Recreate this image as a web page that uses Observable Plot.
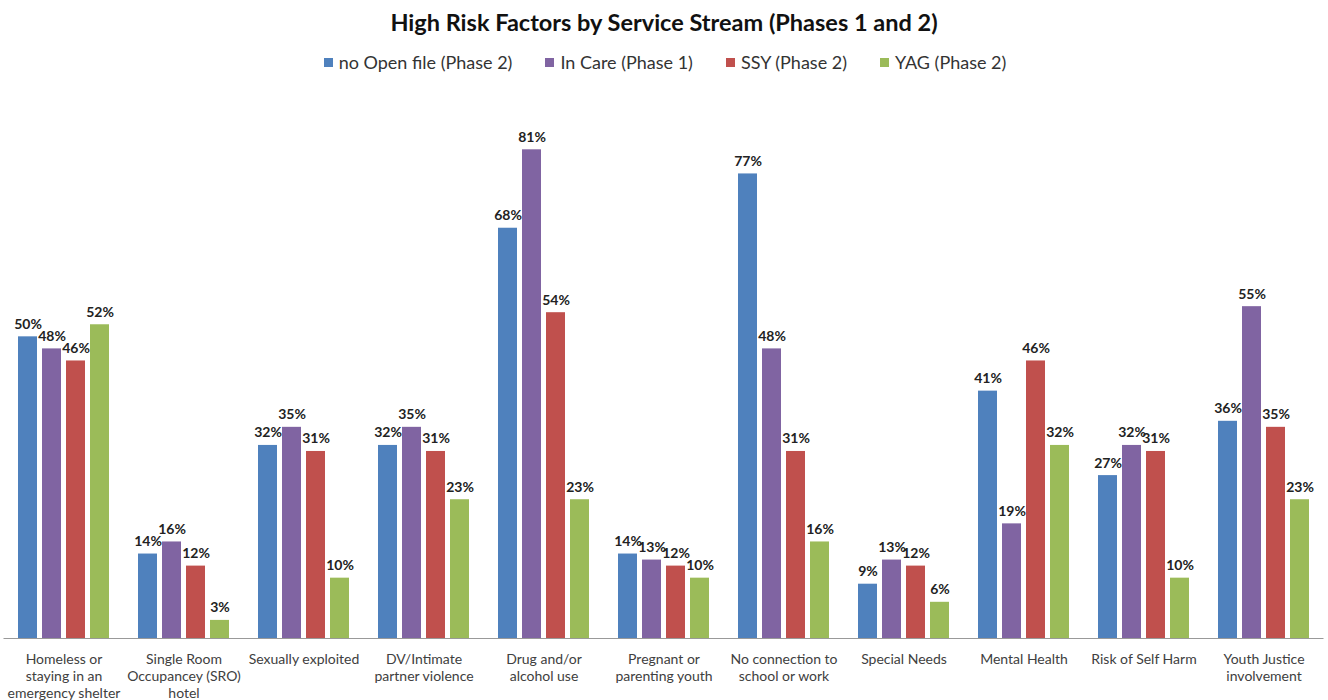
<!DOCTYPE html>
<html>
<head>
<meta charset="utf-8">
<script src="https://cdn.jsdelivr.net/npm/d3@7"></script>
<script src="https://cdn.jsdelivr.net/npm/@observablehq/plot@0.6"></script>
<style>
  html, body { margin: 0; padding: 0; background: #fff; }
  body { width: 1328px; height: 700px; overflow: hidden; font-family: Lato, "Open Sans", sans-serif; color: #000; }
  #title { height: 44px; line-height: 44px; text-align: center; font-weight: bold; font-size: 23.5px; color: #111; }
  #legend { height: 40px; display: flex; justify-content: center; align-items: center; gap: 33px; font-size: 18px; color: #333; padding-left: 2px; box-sizing: border-box; padding-bottom: 4px; }
  .item { display: flex; align-items: center; }
  .sw { width: 9px; height: 9px; margin-right: 6px; display: inline-block; }
  #chart svg { display: block; }
</style>
</head>
<body>
<div id="title">High Risk Factors by Service Stream (Phases 1 and 2)</div>
<div id="legend"></div>
<div id="chart"></div>
<script>
const categories = [
  "Homeless or\nstaying in an\nemergency shelter",
  "Single Room\nOccupancey (SRO)\nhotel",
  "Sexually exploited",
  "DV/Intimate\npartner violence",
  "Drug and/or\nalcohol use",
  "Pregnant or\nparenting youth",
  "No connection to\nschool or work",
  "Special Needs",
  "Mental Health",
  "Risk of Self Harm",
  "Youth Justice\ninvolvement"
];
const seriesNames = ["no Open file (Phase 2)", "In Care (Phase 1)", "SSY (Phase 2)", "YAG (Phase 2)"];
const seriesColors = ["#4F81BD", "#8064A2", "#C0504D", "#9BBB59"];
const noOpenFile = [50, 14, 32, 32, 68, 14, 77, 9, 41, 27, 36];
const inCare     = [48, 16, 35, 35, 81, 13, 48, 13, 19, 32, 55];
const ssy        = [46, 12, 31, 31, 54, 12, 31, 12, 46, 31, 35];
const yag        = [52,  3, 10, 23, 23, 10, 16,  6, 32, 10, 23];
const seriesValues = [noOpenFile, inCare, ssy, yag];

// legend
const legend = document.getElementById("legend");
seriesNames.forEach((n, i) => {
  const it = document.createElement("div");
  it.className = "item";
  it.innerHTML = `<span class="sw" style="background:${seriesColors[i]}"></span><span>${n}</span>`;
  legend.appendChild(it);
});

const data = [];
seriesNames.forEach((s, si) => {
  categories.forEach((c, ci) => data.push({category: c, series: s, si, value: seriesValues[si][ci]}));
});

const barStep = 24;
const barW = 19.2;
const bandW = 91.2;
const inset = (bandW - barW) / 2;

const marks = [];
seriesNames.forEach((s, si) => {
  const d = data.filter(r => r.series === s);
  const dx = (si - 1.5) * barStep;
  marks.push(Plot.barY(d, {x: "category", y: "value", fill: seriesColors[si], insetLeft: inset + dx, insetRight: inset - dx}));
  marks.push(Plot.text(d, {x: "category", y: "value", text: d => d.value + "%", dx, dy: -8, lineAnchor: "bottom", fontWeight: "bold", fontSize: 14, fill: "#222"}));
});
marks.push(Plot.ruleY([0], {stroke: "#999", strokeWidth: 1}));
marks.push(Plot.axisX({anchor: "bottom", tickSize: 0, tickPadding: 13, fontSize: 14, lineHeight: 1.22, label: null, fill: "#404040", lineAnchor: "top"}));

const plot = Plot.plot({
  width: 1328,
  height: 616,
  marginLeft: 3.5,
  marginRight: 4.5,
  marginTop: 11,
  marginBottom: 62,
  style: {fontFamily: "Lato, 'Open Sans', sans-serif", background: "#fff"},
  x: {domain: categories, paddingInner: 0.24, paddingOuter: 0.12},
  y: {domain: [0, 90], axis: null},
  marks
});
document.getElementById("chart").appendChild(plot);
</script>
</body>
</html>
